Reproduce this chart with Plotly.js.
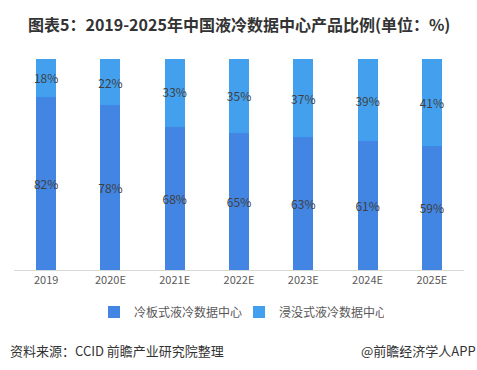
<!DOCTYPE html>
<html>
<head>
<meta charset="utf-8">
<script src="https://cdn.plot.ly/plotly-3.0.1.min.js"></script>
<style>html,body{margin:0;padding:0;background:#fff;}#chart{width:477px;height:370px;}</style>
</head>
<body>
<div id="chart"></div>
<script>
const categories = ['2019','2020E','2021E','2022E','2023E','2024E','2025E'];
const coldPlate = [82,78,68,65,63,61,59];
const immersion = [18,22,33,35,37,39,41];
const seriesNames = ['冷板式液冷数据中心','浸没式液冷数据中心'];

const font = "'Microsoft YaHei','Noto Sans CJK SC','Noto Sans',sans-serif";
const traces = [
  {type:'bar', x:categories, y:coldPlate, name:seriesNames[0], marker:{color:'#4285E3'},
   text:coldPlate.map(v=>v+'%'), textposition:'inside', insidetextanchor:'middle', textangle:0,
   constraintext:'none',
   textfont:{color:'#404040', size:12, family:font}, width:0.31, hoverinfo:'none'},
  {type:'bar', x:categories, y:immersion, name:seriesNames[1], marker:{color:'#43A0EF'},
   text:immersion.map(v=>v+'%'), textposition:'inside', insidetextanchor:'middle', textangle:0,
   constraintext:'none',
   textfont:{color:'#404040', size:12, family:font}, width:0.31, hoverinfo:'none'}
];
const layout = {
  width:477, height:370, barmode:'stack', bargap:0.69,
  margin:{l:14, r:13, t:59, b:100},
  paper_bgcolor:'#fff', plot_bgcolor:'#fff',
  font:{family:font, color:'#595959'},
  showlegend:true,
  legend:{orientation:'h', x:0.5, xanchor:'center', y:-0.13, yanchor:'top',
    font:{size:12, color:'#595959', family:font}, entrywidth:100, entrywidthmode:'pixels',
    itemwidth:30, traceorder:'normal'},
  xaxis:{showline:true, linecolor:'#d9d9d9', linewidth:1, ticks:'', showgrid:false,
    tickfont:{size:11, color:'#595959', family:font}, fixedrange:true},
  yaxis:{range:[0,100], visible:false, showgrid:false, fixedrange:true},
  annotations:[
    {text:'<b>图表5：2019-2025年中国液冷数据中心产品比例(单位：%)</b>', xref:'paper', yref:'paper',
     x:0.5, xanchor:'center', y:1, yshift:35, yanchor:'middle', showarrow:false,
     font:{size:16, color:'#333333', family:font}},
    {text:'资料来源：CCID 前瞻产业研究院整理', xref:'paper', yref:'paper',
     x:-0.013, xanchor:'left', y:0, yshift:-80, yanchor:'middle', showarrow:false,
     font:{size:13, color:'#333333', family:font}},
    {text:'@前瞻经济学人APP', xref:'paper', yref:'paper',
     x:1.03, xanchor:'right', y:0, yshift:-80, yanchor:'middle', showarrow:false,
     font:{size:13, color:'#333333', family:font}}
  ]
};
Plotly.newPlot('chart', traces, layout, {displayModeBar:false, staticPlot:true});
</script>
</body>
</html>
